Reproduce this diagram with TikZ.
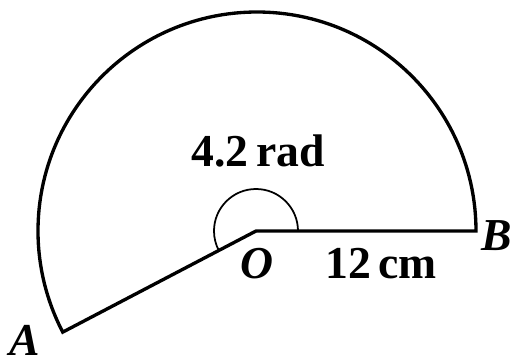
\documentclass[tikz,border=0pt]{standalone}
\usepackage{fontspec}
\setmainfont{Liberation Serif}
\usetikzlibrary{calc}
\begin{document}
\begin{tikzpicture}[x=0.02cm,y=-0.02cm,
  lbl/.style={inner sep=0pt,font=\fontsize{26}{28}\selectfont\bfseries},
  pt/.style={inner sep=0pt,font=\fontsize{26}{28}\selectfont\bfseries\itshape},
  thick line/.style={line width=1.9pt,line join=miter},
  angle arc/.style={line width=1pt}]
\useasboundingbox (0,0) rectangle (515,359);
\coordinate (O) at (256,231);
\coordinate (B) at (476,231);
\coordinate (A) at ($(O)+(-207.5:219)$);
\draw[thick line] (O) -- (B) arc[start angle=0,end angle=-207.5,radius=219] -- cycle;
\draw[angle arc] ($(O)+(42,0)$) arc[start angle=0,end angle=-207.5,radius=42];
\node[lbl,anchor=base] (ang) at (258,166) {4.2\,rad};
\node[lbl,anchor=base west] (len) at (325,278) {12\,cm};
\node[pt,anchor=base] (Ol) at (257,278) {O};
\node[pt,anchor=base west] (Bl) at (481,250) {B};
\node[pt,anchor=base west] (Al) at (9,355) {A};
\end{tikzpicture}
\end{document}
